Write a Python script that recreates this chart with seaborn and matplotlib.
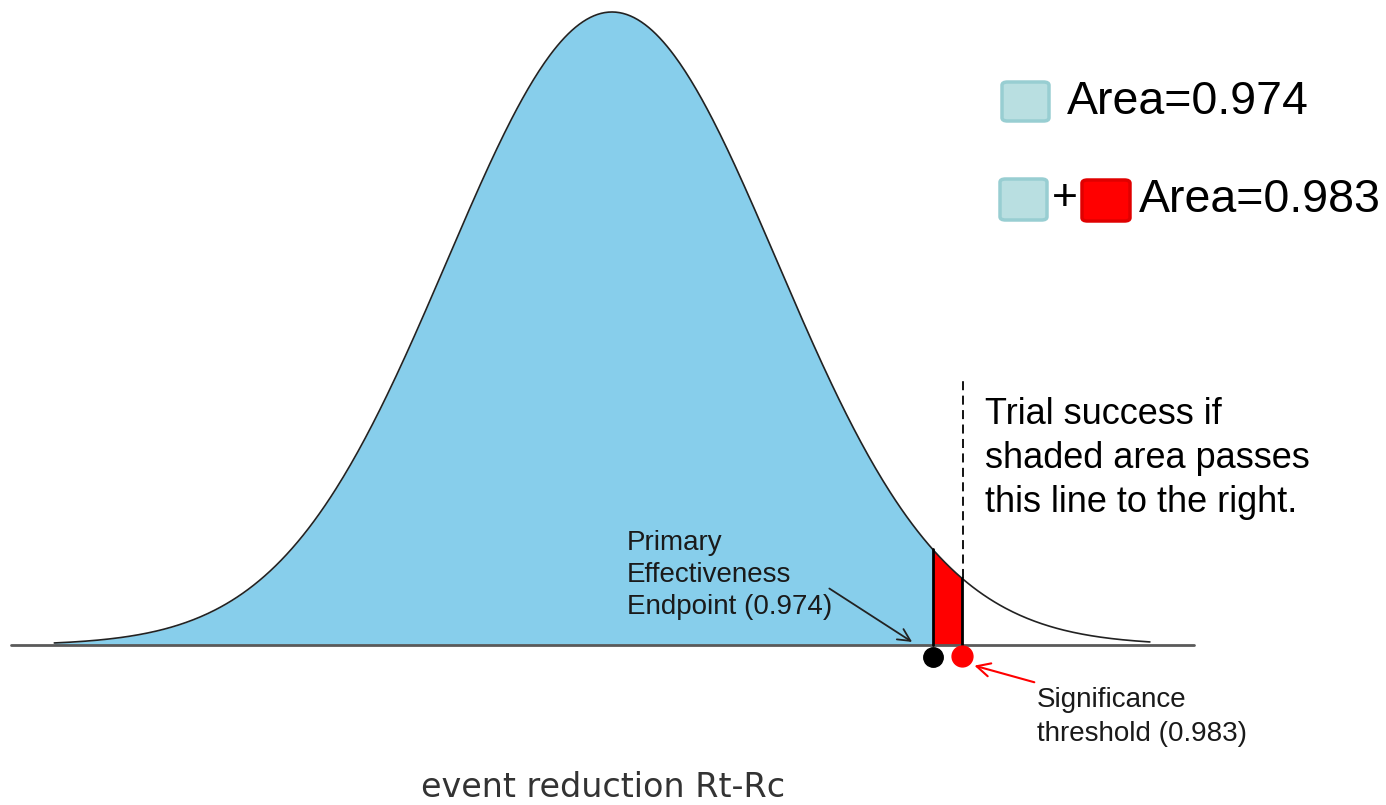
import numpy as np
import pandas as pd
import seaborn as sns
import matplotlib.pyplot as plt
from matplotlib.patches import FancyBboxPatch
from statistics import NormalDist

# --- DATA ---
MEAN = 0.0
SD = 1.0
ENDPOINT_AREA = 0.974      # primary effectiveness endpoint
THRESHOLD_AREA = 0.983     # significance threshold
CURVE_RANGE = [-3.38, 3.26]
BASELINE_RANGE = [-3.64, 3.53]
LEGEND_LABELS = ["Area=0.974", "Area=0.983"]
ENDPOINT_LABEL = "Primary\nEffectiveness\nEndpoint (0.974)"
THRESHOLD_LABEL = "Significance\nthreshold (0.983)"
NOTE = "Trial success if\nshaded area passes\nthis line to the right."
XLABEL = "event reduction Rt-Rc"

BLUE = "#87CEEB"
RED = "#FF0000"
LEG_FILL = "#B9DFE1"
LEG_EDGE = "#98CED2"

W, H = 1386, 805


def fx(px):
    return px / W


def fy(py):
    return 1 - py / H


def build_plot():
    dist = NormalDist(MEAN, SD)
    x_end = dist.inv_cdf(ENDPOINT_AREA)
    x_thr = dist.inv_cdf(THRESHOLD_AREA)

    xs = np.linspace(CURVE_RANGE[0], CURVE_RANGE[1], 600)
    curve = pd.DataFrame({"x": xs, "density": [dist.pdf(v) for v in xs]})

    sns.set_theme(style="white")
    plt.rcParams["font.family"] = ["Liberation Sans", "DejaVu Sans"]

    fig = plt.figure(figsize=(W / 100, H / 100), dpi=100)
    ax = fig.add_axes([0, 0, 1, 1])
    ax.set_xlim(-3.709, 4.691)
    ax.set_ylim(-0.1008, 0.4065)
    ax.axis("off")

    # shaded areas
    blue = curve[curve["x"] <= x_end]
    ax.fill_between(blue["x"], 0, blue["density"], color=BLUE, lw=0, zorder=1)
    red_x = np.linspace(x_end, x_thr, 50)
    ax.fill_between(red_x, 0, [dist.pdf(v) for v in red_x], color=RED, lw=0, zorder=1)

    # curve outline
    sns.lineplot(data=curve, x="x", y="density", color="#222222", lw=1.2, ax=ax, zorder=3)

    # edges of the red band
    ax.plot([x_end, x_end], [0, dist.pdf(x_end)], color="black", lw=2, zorder=4)
    ax.plot([x_thr, x_thr], [0, dist.pdf(x_thr)], color="black", lw=2, zorder=4)

    # baseline
    ax.plot(BASELINE_RANGE, [0, 0], color="#5a5a5a", lw=2, zorder=2)

    # dashed threshold line
    top_y = (H - 378) / H * (0.4065 + 0.1008) - 0.1008
    ax.plot([x_thr + 0.01, x_thr + 0.01], [dist.pdf(x_thr), top_y], color="black",
            lw=1.3, ls=(0, (5, 3)), zorder=4)

    # dots under the baseline
    ax.plot(x_end, -0.0078, "o", color="black", ms=14, zorder=5)
    ax.plot(x_thr, -0.0066, "o", color=RED, ms=15, zorder=5)

    # annotations (multi-line text is anchored at the baseline of its last line)
    ax.annotate("", xy=(x_end - 0.11, 0.001), xytext=(fx(827), fy(587)),
                textcoords="axes fraction",
                arrowprops=dict(arrowstyle="->", color="#222222", lw=1.3,
                                mutation_scale=22))
    ax.text(fx(627), fy(614), ENDPOINT_LABEL, transform=ax.transAxes,
            fontsize=20, color="#1a1a1a", va="baseline", ha="left",
            linespacing=1.3)

    ax.annotate("", xy=(x_thr + 0.06, -0.0125), xytext=(fx(1037), fy(683)),
                textcoords="axes fraction",
                arrowprops=dict(arrowstyle="->", color=RED, lw=1.5,
                                mutation_scale=24))
    ax.text(fx(1037), fy(741), THRESHOLD_LABEL, transform=ax.transAxes,
            fontsize=20, color="#1a1a1a", va="baseline", ha="left",
            linespacing=1.4)

    ax.text(fx(985), fy(512), NOTE, transform=ax.transAxes, fontsize=26,
            color="black", va="baseline", ha="left", linespacing=1.33)

    # legend-like boxes
    def box(x0, y0, x1, y1, face, edge):
        ax.add_patch(FancyBboxPatch((fx(x0), fy(y1)), fx(x1) - fx(x0), fy(y0) - fy(y1),
                                    boxstyle="round,pad=0,rounding_size=0.004",
                                    transform=ax.transAxes, facecolor=face,
                                    edgecolor=edge, lw=2.5, zorder=5))

    box(1002, 82, 1049, 121, LEG_FILL, LEG_EDGE)
    ax.text(fx(1067), fy(102), LEGEND_LABELS[0], transform=ax.transAxes,
            fontsize=33.5, va="center", ha="left", color="black")
    box(1000, 179, 1047, 220, LEG_FILL, LEG_EDGE)
    ax.text(fx(1065), fy(199), "+", transform=ax.transAxes, fontsize=32,
            va="center", ha="center", color="black")
    box(1082, 180, 1130, 221, RED, "#E00000")
    ax.text(fx(1139), fy(200), LEGEND_LABELS[1], transform=ax.transAxes,
            fontsize=33.5, va="center", ha="left", color="black")

    ax.text(fx(603), fy(797), XLABEL, transform=ax.transAxes, fontsize=24,
            family=["DejaVu Sans"], color="#333333", va="baseline", ha="center")

    fig.savefig("out.png", dpi=100)


if __name__ == "__main__":
    build_plot()
